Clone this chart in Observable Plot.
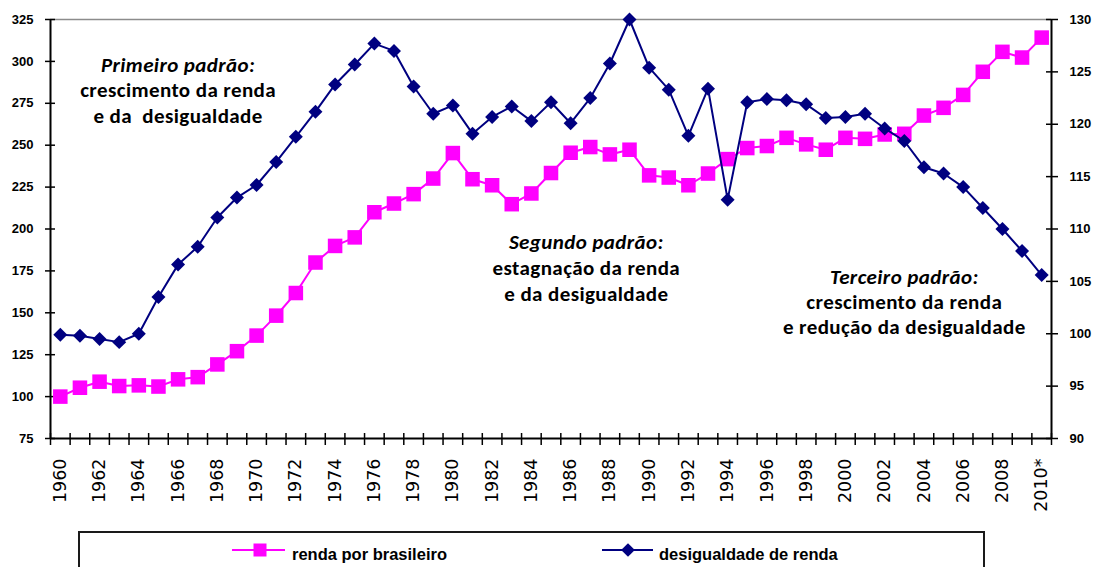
<!DOCTYPE html>
<html>
<head>
<meta charset="utf-8">
<script src="https://cdn.jsdelivr.net/npm/d3@7"></script>
<script src="https://cdn.jsdelivr.net/npm/@observablehq/plot@0.6"></script>
<style>
  html, body { margin: 0; padding: 0; background: #fff; }
  #wrap { position: relative; width: 1096px; height: 567px; overflow: hidden; }
  #chart { position: absolute; left: 0; top: 0; }
  #legend {
    position: absolute; left: 78px; top: 531px; width: 907px; height: 60px;
    box-sizing: border-box; border: 2px solid #1a1a1a; background: #fff;
  }
  #legend svg { position: absolute; left: 0; top: 0; }
  .note text { letter-spacing: 0.4px; }
</style>
</head>
<body>
<div id="wrap">
  <div id="chart"></div>
  <div id="legend"></div>
</div>
<script>
// ---- data ----
const years = [1960,1961,1962,1963,1964,1965,1966,1967,1968,1969,
               1970,1971,1972,1973,1974,1975,1976,1977,1978,1979,
               1980,1981,1982,1983,1984,1985,1986,1987,1988,1989,
               1990,1991,1992,1993,1994,1995,1996,1997,1998,1999,
               2000,2001,2002,2003,2004,2005,2006,2007,2008,2009,2010];
// renda por brasileiro (left axis)
const renda = [100,105.3,108.9,106.3,106.7,106,110.3,111.6,119.2,127.1,
               136.4,148.3,161.8,180,189.9,195,210,215.2,220.8,230.1,
               245.3,229.7,226.1,214.8,221.2,233.4,245.5,248.9,244.5,247.3,
               232,230.7,226.1,233.1,241.7,248.3,249.5,254.4,250.5,247.3,
               254.4,253.8,256.4,256.8,267.7,272.3,280,293.8,305.7,302.3,314.2];
// desigualdade de renda (right axis)
const desig = [99.9,99.8,99.5,99.2,100.0,103.5,106.6,108.3,111.1,113.0,
               114.2,116.4,118.8,121.2,123.8,125.7,127.7,127.0,123.6,121.0,
               121.8,119.1,120.7,121.7,120.3,122.1,120.1,122.5,125.8,130.0,
               125.4,123.3,118.9,123.4,112.8,122.1,122.4,122.3,121.9,120.6,
               120.7,121.0,119.6,118.4,115.9,115.3,114.0,112.0,110.0,107.9,105.6];
const leftTicks = [75,100,125,150,175,200,225,250,275,300,325];
const rightTicks = [90,95,100,105,110,115,120,125,130];
const leftDomain = [75, 325];
const rightDomain = [90, 130];
const xLabelYears = [1960,1962,1964,1966,1968,1970,1972,1974,1976,1978,1980,1982,1984,1986,1988,1990,1992,1994,1996,1998,2000,2002,2004,2006,2008,2010];
const lastLabel = "2010*";
const seriesNames = ["renda por brasileiro", "desigualdade de renda"];
const colors = ["#ff00ff", "#000080"];
// annotations: [x (year), y (left-axis units, baseline), text, italic]
const notes = [
  [1966.0, 293.4, "Primeiro padrão:", true],
  [1966.0, 278.5, "crescimento da renda", false],
  [1966.0, 263.5, "e da  desigualdade", false],
  [1986.8, 187.8, "Segundo padrão:", true],
  [1986.8, 172.3, "estagnação da renda", false],
  [1986.8, 157.3, "e da desigualdade", false],
  [2003.0, 166.9, "Terceiro padrão:", true],
  [2003.0, 152.0, "crescimento da renda", false],
  [2003.0, 137.1, "e redução da desigualdade", false]
];

// ---- derived ----
const k = (leftDomain[1] - leftDomain[0]) / (rightDomain[1] - rightDomain[0]);
const toLeft = v => leftDomain[0] + (v - rightDomain[0]) * k;
const fromLeft = v => rightDomain[0] + (v - leftDomain[0]) / k;
const data = years.map((y, i) => ({year: y, renda: renda[i], desig: desig[i]}));
const bounds = [years[0] - 0.5, ...years.map(y => y + 0.5)];
const noteData = notes.map(([x, y, text, italic]) => ({x, y, text, italic}));

const annFont = "Carlito, Lato, 'Open Sans', sans-serif";

const plot = Plot.plot({
  width: 1096,
  height: 527,
  marginLeft: 50,
  marginRight: 45,
  marginTop: 19,
  marginBottom: 89,
  x: {domain: [bounds[0], bounds[bounds.length - 1]], label: null},
  y: {domain: leftDomain, label: null},
  style: {fontFamily: "'Liberation Sans', Arial, sans-serif", fontSize: "13px", fontWeight: "bold", color: "#000", background: "#fff", overflow: "visible"},
  marks: [
    // frame lines
    Plot.ruleY([leftDomain[1]], {stroke: "#8c8c8c", strokeWidth: 1.5}),
    // left axis ticks (crossing) and labels
    Plot.axisY(leftTicks, {anchor: "left", tickSize: 10, dx: 5, tickFormat: () => "", label: null, stroke: "#000", strokeWidth: 1.5}),
    Plot.axisY(leftTicks, {anchor: "left", tickSize: 0, tickPadding: 17, label: null, fontWeight: "bold", fontSize: 13}),
    // right axis ticks and labels
    Plot.axisY(rightTicks.map(toLeft), {anchor: "right", tickSize: 12, dx: -6, tickFormat: () => "", label: null, stroke: "#000", strokeWidth: 1.5}),
    Plot.axisY(rightTicks.map(toLeft), {anchor: "right", tickSize: 0, tickPadding: 18, label: null, tickFormat: d => String(Math.round(fromLeft(d))), fontWeight: "bold", fontSize: 13}),
    // x axis ticks at category boundaries (crossing)
    Plot.axisX(bounds, {anchor: "bottom", tickSize: 12, dy: -5, tickFormat: () => "", label: null, stroke: "#000", strokeWidth: 1.5}),
    // x labels
    Plot.axisX(xLabelYears, {anchor: "bottom", tickSize: 0, tickPadding: 20, tickRotate: -90, label: null,
      tickFormat: d => d === years[years.length - 1] ? lastLabel : String(d),
      fontFamily: "'DejaVu Sans', Verdana, sans-serif", fontWeight: "normal", fontSize: 17.5}),
    // axis lines
    Plot.ruleX([bounds[0]], {stroke: "#000", strokeWidth: 2}),
    Plot.ruleX([bounds[bounds.length - 1]], {stroke: "#000", strokeWidth: 2}),
    Plot.ruleY([leftDomain[0]], {stroke: "#000", strokeWidth: 2}),
    // series 1: renda
    Plot.line(data, {x: "year", y: "renda", stroke: colors[0], strokeWidth: 2}),
    Plot.dot(data, {x: "year", y: "renda", symbol: "square", r: 8.2, fill: colors[0], stroke: "none"}),
    // series 2: desigualdade
    Plot.line(data, {x: "year", y: d => toLeft(d.desig), stroke: colors[1], strokeWidth: 2}),
    Plot.dot(data, {x: "year", y: d => toLeft(d.desig), symbol: "diamond2", r: 6.3, fill: colors[1], stroke: "none"}),
    // annotations
    Plot.text(noteData.filter(d => d.italic), {x: "x", y: "y", text: "text", lineAnchor: "bottom", fontSize: 21, fontWeight: "bold", fontStyle: "italic", fontFamily: annFont, fill: "#000", className: "note"}),
    Plot.text(noteData.filter(d => !d.italic), {x: "x", y: "y", text: "text", lineAnchor: "bottom", fontSize: 21, fontWeight: "bold", fontFamily: annFont, fill: "#000", className: "note"})
  ]
});
document.getElementById("chart").appendChild(plot);

// ---- legend (HTML/SVG below the chart) ----
const leg = d3.select("#legend").append("svg").attr("width", 905).attr("height", 58)
  .style("font-family", "'Liberation Sans', Arial, sans-serif").style("font-weight", "bold").style("font-size", "16.5px");
// offsets relative to legend box inner (left 80, top 533)
const items = [
  {name: seriesNames[0], color: colors[0], x0: 152, x1: 205, mx: 180, text: 212, sym: d3.symbolSquare, size: 13 * 13},
  {name: seriesNames[1], color: colors[1], x0: 522, x1: 573, mx: 548, text: 579, sym: d3.symbolDiamond2, size: 120}
];
items.forEach(it => {
  leg.append("line").attr("x1", it.x0).attr("x2", it.x1).attr("y1", 17).attr("y2", 17)
    .attr("stroke", it.color).attr("stroke-width", 2);
  leg.append("path").attr("d", d3.symbol(it.sym, it.size)()).attr("transform", `translate(${it.mx},17)`)
    .attr("fill", it.color);
  leg.append("text").attr("x", it.text).attr("y", 27).attr("fill", "#000").text(it.name);
});
</script>
</body>
</html>
